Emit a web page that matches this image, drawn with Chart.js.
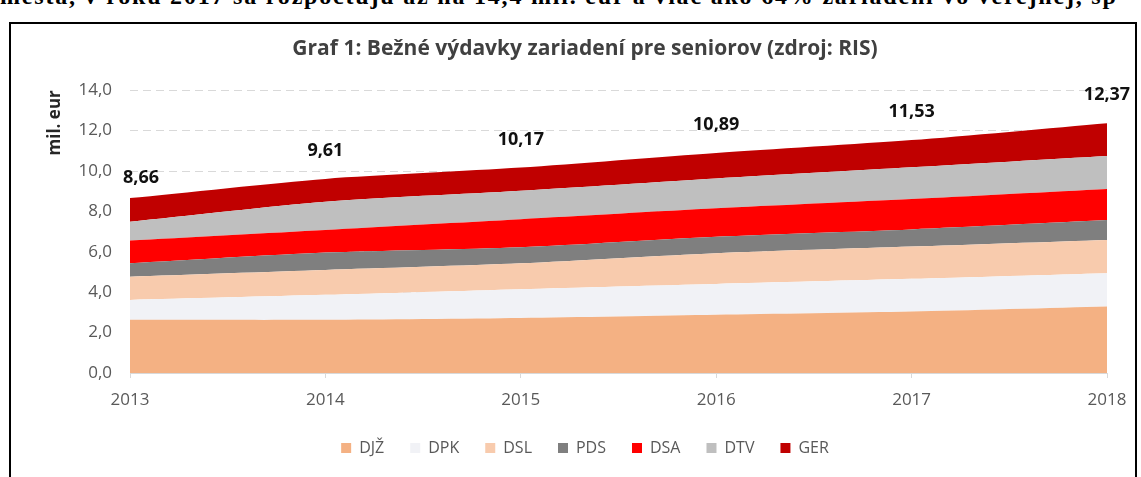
<!DOCTYPE html>
<html>
<head>
<meta charset="utf-8">
<script src="https://cdn.jsdelivr.net/npm/chart.js@4.4.1/dist/chart.umd.min.js"></script>
<style>
html, body { margin: 0; padding: 0; background: #fff; overflow: hidden; width: 1141px; height: 477px; }
#text { position: absolute; left: 0; top: -17px; font: bold 24px "Liberation Serif", serif; letter-spacing: 1.8px; white-space: nowrap; color: #000; }
#frame { position: absolute; left: 9px; top: 22px; width: 1124px; height: 520px; border: 2px solid #000; }
#wrap { position: absolute; left: 0; top: 0; width: 1141px; height: 477px; }
</style>
</head>
<body>
<div id="text">mesta, v roku 2017 sa rozpočtujú až na 14,4 mil. eur a viac ako 64% zariadení vo verejnej, sp</div>
<div id="frame"></div>
<div id="wrap"><canvas id="seniorChart"></canvas></div>
<script>
const years = ['2013', '2014', '2015', '2016', '2017', '2018']
const djz = [2.63, 2.63, 2.72, 2.88, 3.04, 3.29]
const dpk = [0.99, 1.24, 1.43, 1.53, 1.62, 1.65]
const dsl = [1.15, 1.23, 1.28, 1.52, 1.60, 1.65]
const pds = [0.66, 0.86, 0.80, 0.82, 0.85, 0.98]
const dsa = [1.13, 1.12, 1.38, 1.40, 1.50, 1.54]
const dtv = [0.93, 1.40, 1.41, 1.48, 1.57, 1.63]
const ger = [1.17, 1.13, 1.15, 1.26, 1.35, 1.63]
const totals = [8.66, 9.61, 10.17, 10.89, 11.53, 12.37]

const series = [
    ['DJŽ', djz, '#F4B183'],
    ['DPK', dpk, '#F1F2F6'],
    ['DSL', dsl, '#F8CBAD'],
    ['PDS', pds, '#7F7F7F'],
    ['DSA', dsa, '#FF0000'],
    ['DTV', dtv, '#BFBFBF'],
    ['GER', ger, '#C00000']
]

const comma = (v, d) => v.toFixed(d).replace('.', ',')

// total above each year
const totalLabels = {
    id: 'totalLabels',
    afterDatasetsDraw(chart) {
        const {ctx, scales: {x, y}} = chart
        ctx.save()
        ctx.font = 'bold 18px "Open Sans"'
        ctx.fillStyle = '#111'
        ctx.textBaseline = 'middle'
        totals.forEach((t, i) => {
            const px = x.getPixelForValue(i)
            const py = y.getPixelForValue(t)
            ctx.textAlign = i === 0 ? 'left' : 'center'
            ctx.fillText(comma(t, 2), i === 0 ? px - 7 : px, py - (i === 0 ? 20 : 28))
        })
        ctx.restore()
    }
}

Chart.defaults.font.family = '"Open Sans", sans-serif'

new Chart(document.getElementById('seniorChart'), {
    type: 'line',
    data: {
        labels: years,
        datasets: series.map(([label, data, color], i) => ({
            label,
            data,
            backgroundColor: color,
            borderColor: color,
            borderWidth: 0,
            pointRadius: 0,
            tension: 0.25,
            fill: i === 0 ? 'origin' : '-1'
        }))
    },
    options: {
        responsive: true,
        maintainAspectRatio: false,
        animation: false,
        layout: { padding: { left: 63, right: 34, top: 0, bottom: 11 } },
        plugins: {
            title: {
                display: true,
                text: 'Graf 1: Bežné výdavky zariadení pre seniorov (zdroj: RIS)',
                color: '#404040',
                font: { size: 21, weight: 'bold' },
                padding: { top: 36, bottom: 29 }
            },
            legend: {
                position: 'bottom',
                labels: { boxWidth: 10, boxHeight: 10, padding: 26, color: '#595959', font: { size: 16 } }
            },
            tooltip: { enabled: false }
        },
        scales: {
            x: {
                grid: { drawOnChartArea: false, tickLength: 5, color: '#d9d9d9' },
                border: { display: true, color: '#d9d9d9' },
                ticks: { color: '#595959', font: { size: 17 }, padding: 12, maxRotation: 0 },
                afterFit(scale) { scale.height = 41 }
            },
            y: {
                stacked: true,
                min: 0,
                max: 14,
                ticks: { stepSize: 2, color: '#595959', font: { size: 17 }, padding: 18, callback: v => comma(v, 1) },
                grid: { color: '#d9d9d9', drawTicks: false },
                border: { display: false, dash: [8, 5] },
                title: { display: true, text: 'mil. eur', align: 'end', color: '#262626', font: { size: 17, weight: 'bold' }, padding: { top: -18, bottom: 0 } },
                afterFit(scale) { scale.width = 67 }
            }
        }
    },
    plugins: [totalLabels]
})
</script>
</body>
</html>
